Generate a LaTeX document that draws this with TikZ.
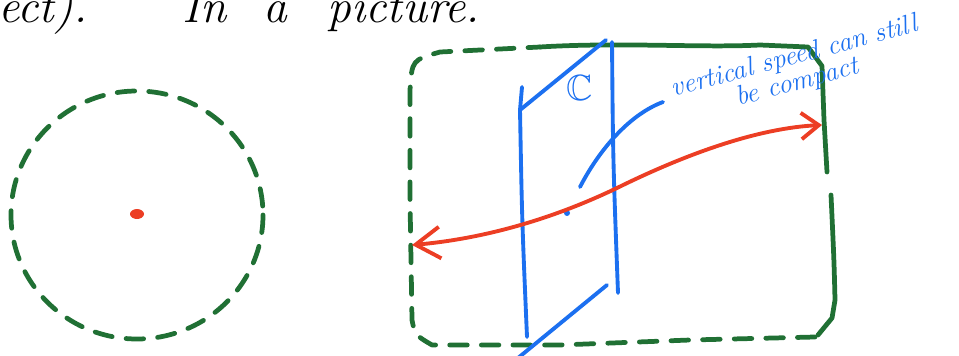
\documentclass[tikz,border=0pt]{standalone}
\usepackage{amssymb}
\usetikzlibrary{arrows.meta}
\definecolor{penGreen}{RGB}{32,112,52}
\definecolor{penBlue}{RGB}{28,112,240}
\definecolor{penRed}{RGB}{236,62,36}

\begin{document}
\begin{tikzpicture}[
  x=0.02cm, y=-0.02cm,
  rim/.style={draw=penGreen,line width=2.7pt,line cap=round,line join=round},
  dashrim/.style={rim,dash pattern=on 10pt off 8pt},
  plane/.style={draw=penBlue,line width=2.2pt,line cap=round,line join=round},
  motion/.style={draw=penRed,line width=2.2pt,line cap=round,
    {Straight Barb[length=14pt,width=18pt,line width=2.2pt]}-{Straight Barb[length=10pt,width=15pt,line width=2.2pt]}},
  note/.style={text=penBlue,font=\itshape\fontsize{15.5}{17}\selectfont,anchor=base west,rotate=15,inner sep=0pt}
]
  \useasboundingbox (0,0) rectangle (959,355);

  % text line cut off at the top
  \node[anchor=base west,inner sep=0pt,font=\itshape\fontsize{27}{29}\selectfont] (head) at (-2,22)
    {ect).\hspace{1.9cm}In\hspace{0.75cm}a\hspace{0.8cm}picture.};

  % disc with its centre
  \draw[dashrim] (137,215) ellipse [x radius=126, y radius=124];
  \fill[penRed] (137,214) ellipse [x radius=7, y radius=5];

  % box
  \draw[rim] (540,47) .. controls (620,42) and (700,48) .. (760,45) -- (808,47) -- (822,66) -- (824,120) -- (827,172);
  \draw[rim] (831,195) .. controls (834,260) .. (835,300) -- (832,318) -- (818,335);
  \draw[dashrim] (815,337) -- (690,340) -- (560,345) -- (432,345) .. controls (415,335) .. (412,320)
    -- (410,200) -- (410,90) .. controls (412,60) .. (440,52) -- (540,47);

  % the plane
  \coordinate (tl) at (520,110);
  \coordinate (tr) at (606,40);
  \draw[plane] (522,87) -- (tl) .. controls (522,220) .. (527,337);
  \draw[plane] (tl) -- (tr);
  \draw[plane] (612,42) .. controls (613,160) .. (618,293);
  \draw[plane] (607,285) -- (518,358);
  \draw[plane] (580,187) .. controls (598,152) and (628,115) .. (663,102);
  \fill[penBlue] (567,213) circle [radius=3];
  \node[text=penBlue,font=\huge] (plab) at (580,88) {$\mathbb{C}$};

  \node[note] (note1) at (673,97) {vertical speed can still};
  \node[note] (note2) at (738,106) {be compact};

  % path through the plane
  \coordinate (west) at (412,245);
  \coordinate (east) at (822,125);
  \draw[motion] (west) .. controls (470,240) and (540,225) .. (617,188)
    .. controls (690,152) and (760,128) .. (east);
\end{tikzpicture}
\end{document}
